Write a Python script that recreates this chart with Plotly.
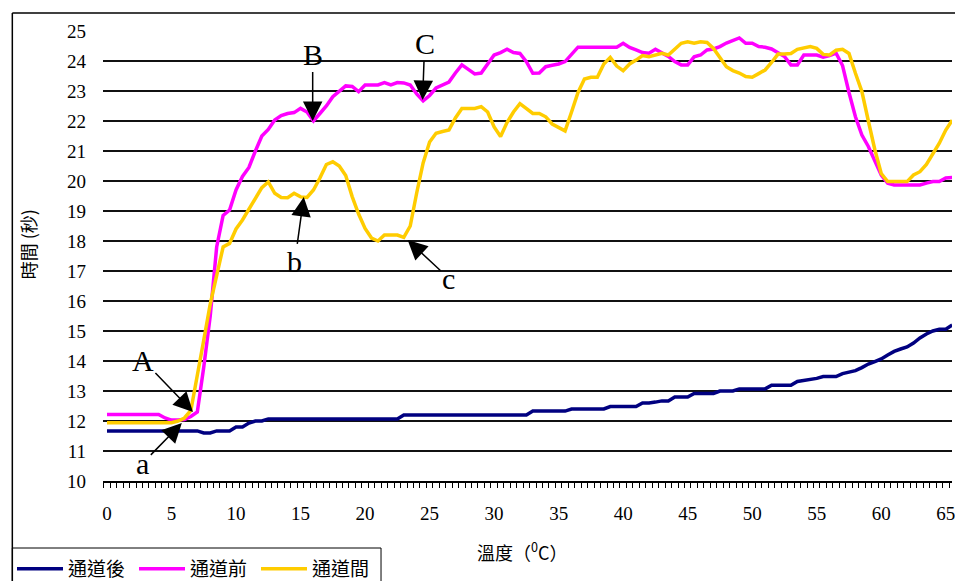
import plotly.graph_objects as go

# Temperature (°C), one reading every 0.5 degree
temps = [i * 0.5 for i in range(132)]

# 通道後 (blue)
after = [11.67, 11.67, 11.67, 11.67, 11.67, 11.67, 11.67, 11.67, 11.67, 11.67,
         11.67, 11.67, 11.67, 11.67, 11.67, 11.6, 11.6, 11.67, 11.67, 11.67,
         11.8, 11.8, 11.93, 12.0, 12.0, 12.07, 12.07, 12.07, 12.07, 12.07,
         12.07, 12.07, 12.07, 12.07, 12.07, 12.07, 12.07, 12.07, 12.07, 12.07,
         12.07, 12.07, 12.07, 12.07, 12.07, 12.07, 12.2, 12.2, 12.2, 12.2,
         12.2, 12.2, 12.2, 12.2, 12.2, 12.2, 12.2, 12.2, 12.2, 12.2,
         12.2, 12.2, 12.2, 12.2, 12.2, 12.2, 12.33, 12.33, 12.33, 12.33,
         12.33, 12.33, 12.4, 12.4, 12.4, 12.4, 12.4, 12.4, 12.48, 12.48,
         12.48, 12.48, 12.48, 12.6, 12.6, 12.63, 12.67, 12.67, 12.8, 12.8,
         12.8, 12.92, 12.92, 12.92, 12.92, 13.0, 13.0, 13.0, 13.07, 13.07,
         13.07, 13.07, 13.07, 13.19, 13.19, 13.19, 13.19, 13.32, 13.35, 13.4,
         13.42, 13.48, 13.48, 13.48, 13.58, 13.63, 13.68, 13.78, 13.9, 13.98,
         14.07, 14.2, 14.32, 14.4, 14.47, 14.6, 14.77, 14.9, 15.0, 15.06,
         15.06, 15.2]

# 通道前 (magenta)
before = [12.22, 12.22, 12.22, 12.22, 12.22, 12.22, 12.22, 12.22, 12.22, 12.1,
          12.03, 12.03, 12.05, 12.15, 12.3, 13.8, 15.5, 17.8, 18.85, 19.03,
          19.7, 20.15, 20.45, 21.0, 21.5, 21.72, 22.03, 22.18, 22.25, 22.28,
          22.42, 22.3, 22.0, 22.25, 22.5, 22.81, 23.0, 23.17, 23.15, 22.98,
          23.2, 23.2, 23.2, 23.28, 23.2, 23.28, 23.27, 23.2, 22.9, 22.67,
          22.85, 23.1, 23.2, 23.3, 23.6, 23.87, 23.72, 23.57, 23.6, 23.9,
          24.2, 24.28, 24.39, 24.28, 24.25, 23.98, 23.59, 23.6, 23.81, 23.86,
          23.9, 23.98, 24.2, 24.46, 24.46, 24.46, 24.46, 24.46, 24.46, 24.46,
          24.59, 24.45, 24.37, 24.28, 24.26, 24.39, 24.27, 24.15, 23.98, 23.87,
          23.87, 24.14, 24.2, 24.37, 24.4, 24.48, 24.6, 24.67, 24.77, 24.59,
          24.59, 24.48, 24.46, 24.4, 24.26, 24.15, 23.87, 23.87, 24.2, 24.2,
          24.2, 24.13, 24.18, 24.26, 23.85, 22.95, 22.14, 21.53, 21.15, 20.67,
          20.2, 19.93, 19.87, 19.87, 19.87, 19.87, 19.87, 19.93, 19.98, 19.98,
          20.1, 20.12]

# 通道間 (yellow)
between = [11.94, 11.94, 11.94, 11.94, 11.94, 11.94, 11.94, 11.94, 11.94, 11.94,
           11.94, 12.0, 12.1, 12.35, 13.6, 14.7, 15.9, 16.85, 17.8, 17.92,
           18.4, 18.7, 19.05, 19.42, 19.78, 19.97, 19.59, 19.45, 19.44, 19.59,
           19.47, 19.45, 19.7, 20.1, 20.55, 20.64, 20.5, 20.18, 19.48, 18.9,
           18.42, 18.1, 18.0, 18.2, 18.2, 18.2, 18.12, 18.5, 19.6, 20.6,
           21.3, 21.59, 21.65, 21.7, 22.1, 22.42, 22.42, 22.42, 22.48, 22.3,
           21.8, 21.48, 21.95, 22.3, 22.58, 22.42, 22.25, 22.25, 22.14, 21.9,
           21.78, 21.67, 22.3, 22.95, 23.4, 23.46, 23.46, 23.9, 24.12, 23.83,
           23.68, 23.9, 24.03, 24.18, 24.14, 24.2, 24.26, 24.2, 24.39, 24.59,
           24.64, 24.59, 24.64, 24.62, 24.42, 24.09, 23.81, 23.68, 23.6, 23.48,
           23.46, 23.58, 23.7, 23.95, 24.23, 24.23, 24.25, 24.39, 24.45, 24.48,
           24.42, 24.22, 24.2, 24.36, 24.39, 24.25, 23.59, 22.98, 22.0, 21.05,
           20.25, 19.98, 19.98, 19.98, 19.98, 20.2, 20.31, 20.55, 20.9, 21.26,
           21.7, 22.03]

series_names = ["通道後", "通道前", "通道間"]
series_colors = ["#000080", "#FF00FF", "#FFCC00"]
x_ticks = [0, 5, 10, 15, 20, 25, 30, 35, 40, 45, 50, 55, 60, 65]
y_ticks = list(range(10, 26))

# annotation labels: arrow tip in data units, text offset in px
labels = ["A", "B", "C", "a", "b", "c"]
tip_x = [6.66, 15.94, 24.46, 5.8, 15.25, 23.3]
tip_y = [12.3, 22.0, 22.7, 11.93, 19.47, 18.03]
off_x = [-50, 0, 2, -39, -9, 41]
off_y = [-52, -67, -57, 40, 65, 38]

W, H = 955, 581
L, R, T, B = 103, 0, 31, 100
pw, ph = W - L - R, H - T - B

def px_x(p):
    return (p - L) / pw

def px_y(p):
    return (H - B - p) / ph

fig = go.Figure()
for name, col, ys in zip(series_names, series_colors, [after, before, between]):
    fig.add_trace(go.Scatter(x=temps, y=ys, mode="lines", name=name,
                             line=dict(color=col, width=3.5)))

serif = "Liberation Serif"
cjk = "Noto Sans CJK TC"

annotations = []
for t, x, y, ax, ay in zip(labels, tip_x, tip_y, off_x, off_y):
    annotations.append(dict(x=x, y=y, xref="x", yref="y", text=t, showarrow=True,
                            ax=ax, ay=ay, axref="pixel", ayref="pixel",
                            arrowhead=2, arrowsize=2.6, arrowwidth=1.5,
                            arrowcolor="black",
                            font=dict(family=serif, size=30, color="black")))

annotations.append(dict(x=px_x(28), y=px_y(244), xref="paper", yref="paper",
                        xanchor="center", yanchor="middle",
                        text="時間 (秒)", showarrow=False, textangle=-90,
                        font=dict(family=cjk, size=18, color="black")))
annotations.append(dict(x=px_x(523), y=px_y(551), xref="paper", yref="paper",
                        xanchor="center", yanchor="middle",
                        text="溫度（<sup>0</sup>C）", showarrow=False,
                        font=dict(family=cjk, size=18, color="black")))

shapes = [
    dict(type="line", xref="paper", yref="paper", x0=px_x(12), x1=px_x(12),
         y0=px_y(13), y1=px_y(620), line=dict(color="black", width=1.5)),
    dict(type="line", xref="paper", yref="paper", x0=px_x(12), x1=px_x(990),
         y0=px_y(13), y1=px_y(13), line=dict(color="black", width=1.5)),
    # legend frame
    dict(type="rect", xref="paper", yref="paper", x0=px_x(12), x1=px_x(382),
         y0=px_y(548), y1=px_y(620), line=dict(color="black", width=1),
         fillcolor="rgba(0,0,0,0)"),
]

fig.update_layout(
    width=W, height=H,
    margin=dict(l=L, r=R, t=T, b=B),
    paper_bgcolor="white", plot_bgcolor="white",
    showlegend=True,
    legend=dict(orientation="h", xref="container", yref="container",
                x=12 / W, y=1 - 550 / H, xanchor="left", yanchor="top",
                borderwidth=0, bgcolor="rgba(0,0,0,0)",
                font=dict(family=cjk, size=19, color="black"),
                itemwidth=46, entrywidth=61, entrywidthmode="pixels",
                tracegroupgap=0, traceorder="normal"),
    annotations=annotations,
    shapes=shapes,
    xaxis=dict(range=[(L - 107) / 12.95, (W - 107) / 12.95],
               tickmode="array", tickvals=x_ticks, ticktext=[str(v) for v in x_ticks],
               ticks="", showgrid=False, zeroline=False,
               showline=True, linecolor="black", linewidth=1.5,
               ticklabelstandoff=14, ticklabeloverflow="allow",
               tickfont=dict(family=serif, size=19, color="black"),
               minor=dict(tick0=-0.25, dtick=0.5, ticks="outside", ticklen=5,
                          tickcolor="black", tickwidth=1, showgrid=False)),
    yaxis=dict(range=[10, 25], tickmode="array", tickvals=y_ticks,
               ticktext=[str(v) for v in y_ticks], ticks="",
               showgrid=True, gridcolor="#111111", gridwidth=2,
               zeroline=False, showline=False,
               ticklabelstandoff=16,
               tickfont=dict(family=serif, size=19, color="black")),
)

fig.write_html("out.html", config={"displayModeBar": False},
               post_script="document.body.style.margin='0px';")
